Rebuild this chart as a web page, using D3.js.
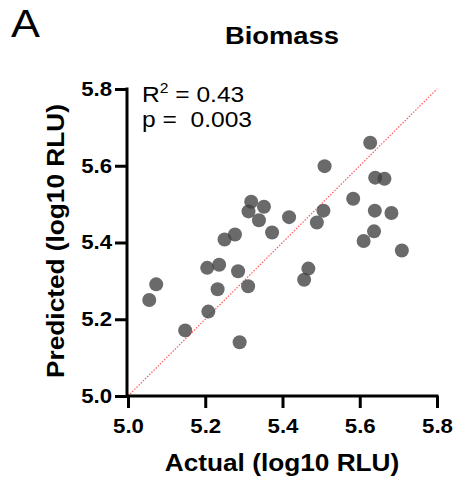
<!DOCTYPE html>
<html><head><meta charset="utf-8">
<script src="https://cdn.jsdelivr.net/npm/d3@7"></script>
<style>body{margin:0;background:#fff}svg{display:block}text{font-family:"Liberation Sans",Arial,sans-serif}</style>
</head><body>
<svg id="c" width="456" height="481"></svg>
<script>
const actual = [5.627,5.509,5.640,5.664,5.583,5.319,5.352,5.312,5.506,5.639,5.682,5.417,5.339,5.489,5.637,5.373,5.277,5.250,5.610,5.709,5.205,5.236,5.285,5.467,5.456,5.073,5.055,5.232,5.311,5.208,5.148,5.289];
const predicted = [5.660,5.599,5.569,5.566,5.514,5.506,5.493,5.481,5.483,5.483,5.477,5.466,5.458,5.452,5.429,5.426,5.421,5.408,5.404,5.379,5.334,5.342,5.325,5.332,5.303,5.291,5.250,5.278,5.286,5.220,5.171,5.140];
const xTicks = [5.0,5.2,5.4,5.6,5.8];
const yTicks = [5.0,5.2,5.4,5.6,5.8];
const title = "Biomass", xTitle = "Actual (log10 RLU)", yTitle = "Predicted (log10 RLU)";

const svg = d3.select("#c");
const sx = 1.14;
const x = d3.scaleLinear().domain([5.0,5.8]).range([128,437]);
const y = d3.scaleLinear().domain([5.0,5.8]).range([396,89]);

// identity line
svg.append("line").attr("x1",x(5.0)).attr("y1",y(5.0)).attr("x2",x(5.8)).attr("y2",y(5.8))
  .attr("stroke","#ff5a5a").attr("stroke-width",1.2).attr("stroke-dasharray","1.5,1.5");

// points
svg.append("g").selectAll("circle").data(actual).join("circle")
  .attr("cx",(d)=>x(d)).attr("cy",(d,i)=>y(predicted[i])).attr("r",7)
  .attr("fill","#404040").attr("fill-opacity",0.78);

// axes
const xa = svg.append("g").attr("transform","translate(0,396)")
  .call(d3.axisBottom(x).tickValues(xTicks).tickFormat(d3.format(".1f")).tickSize(12).tickPadding(11));
const ya = svg.append("g").attr("transform","translate(127,0)")
  .call(d3.axisLeft(y).tickValues(yTicks).tickFormat(d3.format(".1f")).tickSize(12).tickPadding(3));
[xa,ya].forEach(g=>{
  g.select(".domain").attr("stroke","#000").attr("stroke-width",3);
  g.selectAll(".tick line").attr("stroke","#000").attr("stroke-width",3);
  g.selectAll("text").attr("fill","#000").attr("font-size",19.5).attr("font-weight","bold");
});
xa.select(".domain").attr("d","M126,0H"+(x(5.8)+1.5));
ya.select(".domain").attr("d","M0,"+(y(5.8)-1.5)+"V397.5");
xa.selectAll(".tick text").attr("transform",`scale(${sx},1)`).attr("dy","0.71em");
ya.selectAll(".tick text").each(function(){
  const t=d3.select(this); const xx=+t.attr("x");
  t.attr("x",xx/sx).attr("transform",`scale(${sx},1)`);
});

function txt(x0,y0,s,size,weight,anchor){
  return svg.append("text").attr("transform",`translate(${x0},${y0}) scale(${sx},1)`)
    .attr("font-size",size).attr("font-weight",weight).attr("text-anchor",anchor).text(s);
}
txt(11,37,"A",38,"normal","start");
txt(282,44,title,24,"bold","middle");
txt(282,471,xTitle,23,"bold","middle");
svg.append("text").attr("transform",`translate(64,241) rotate(-90) scale(${sx},1)`)
  .attr("font-size",23).attr("font-weight","bold").attr("text-anchor","middle").text(yTitle);

const r = svg.append("text").attr("transform",`translate(142,102) scale(${sx*0.98},1)`).attr("font-size",22);
r.append("tspan").text("R");
r.append("tspan").attr("dy",-9).attr("font-size",14).text("2");
r.append("tspan").attr("dy",9).text(" = 0.43");
svg.append("text").attr("transform",`translate(142,127) scale(${sx*0.98},1)`).attr("font-size",22)
  .attr("xml:space","preserve").style("white-space","pre").text("p =  0.003");
</script>
</body></html>
